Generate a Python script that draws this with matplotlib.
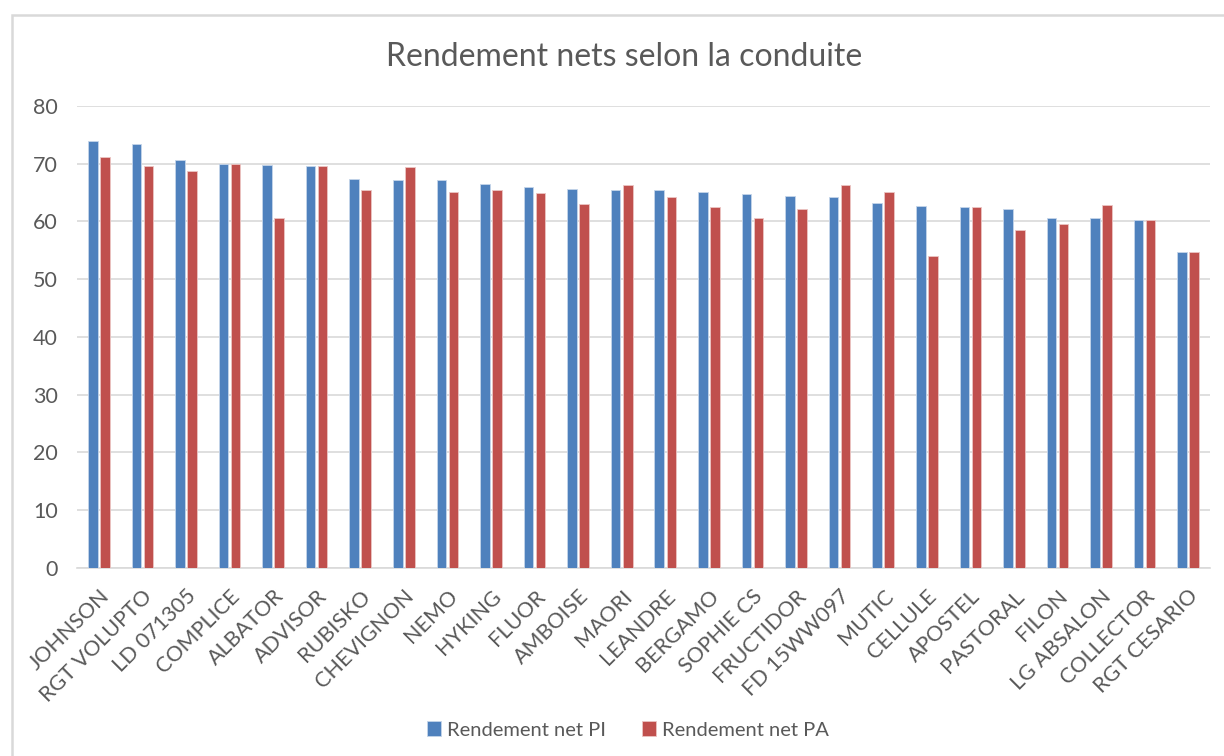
import numpy as np
import matplotlib.pyplot as plt
from matplotlib.patches import Rectangle

plt.rcParams['font.family'] = ['Lato', 'DejaVu Sans']

varietes = ['JOHNSON', 'RGT VOLUPTO', 'LD 071305', 'COMPLICE', 'ALBATOR', 'ADVISOR',
            'RUBISKO', 'CHEVIGNON', 'NEMO', 'HYKING', 'FLUOR', 'AMBOISE', 'MAORI',
            'LEANDRE', 'BERGAMO', 'SOPHIE CS', 'FRUCTIDOR', 'FD 15WW097', 'MUTIC',
            'CELLULE', 'APOSTEL', 'PASTORAL', 'FILON', 'LG ABSALON', 'COLLECTOR',
            'RGT CESARIO']
rdt_pi = [73.9, 73.5, 70.6, 70.0, 69.8, 69.6, 67.4, 67.2, 67.2, 66.5, 65.9, 65.7, 65.5,
          65.5, 65.1, 64.7, 64.5, 64.3, 63.2, 62.6, 62.5, 62.1, 60.6, 60.6, 60.2, 54.7]
rdt_pa = [71.2, 69.6, 68.8, 70.0, 60.6, 69.6, 65.4, 69.4, 65.1, 65.4, 64.9, 63.1, 66.3,
          64.3, 62.5, 60.6, 62.2, 66.3, 65.1, 54.1, 62.5, 58.6, 59.6, 62.9, 60.2, 54.7]

blue = '#4F81BD'
red = '#C0504D'
grey_txt = '#595959'

fig = plt.figure(figsize=(12.24, 7.56), dpi=100)
ax = fig.add_axes([77 / 1224, 1 - 568 / 756, (1210 - 77) / 1224, (568 - 106) / 756])

# chart area border (Excel style)
fig.patches.append(Rectangle((11.5 / 1224, -0.05), 1.1, 1 - 15 / 756 + 0.05,
                             transform=fig.transFigure, fill=False,
                             edgecolor='#d9d9d9', linewidth=1.8))

x = np.arange(len(varietes))
w = 0.22
ax.bar(x - 0.138, rdt_pi, w, color=blue, edgecolor='#c5d5ea', linewidth=0.6,
       label='Rendement net PI', zorder=3)
ax.bar(x + 0.138, rdt_pa, w, color=red, edgecolor='#ebc5c4', linewidth=0.6,
       label='Rendement net PA', zorder=3)

ax.set_xlim(-0.5, len(varietes) - 0.5)
ax.set_ylim(0, 80)
ax.set_yticks(range(0, 81, 10))
ax.yaxis.grid(True, color='#d9d9d9', linewidth=1.2, zorder=0)
for s in ['top', 'right', 'left']:
    ax.spines[s].set_visible(False)
ax.spines['bottom'].set_color('#d9d9d9')
ax.spines['bottom'].set_linewidth(1.2)
ax.tick_params(axis='both', length=0, colors=grey_txt)
ax.tick_params(axis='y', labelsize=15.5, pad=14)
ax.set_xticks(x)
ax.set_xticklabels(varietes, rotation=45, ha='right', rotation_mode='anchor')
ax.tick_params(axis='x', labelsize=15.5, pad=13)

fig.text(624 / 1224, 1 - 57 / 756, 'Rendement nets selon la conduite',
         ha='center', va='center', fontsize=23, color=grey_txt)

fig.legend(loc='center', bbox_to_anchor=(628 / 1224, 1 - 730 / 756), ncol=2,
           frameon=False, fontsize=14.5, labelcolor=grey_txt, handlelength=0.7,
           handleheight=0.7, handletextpad=0.3, columnspacing=1.8)

fig.savefig('out.png', dpi=100)
